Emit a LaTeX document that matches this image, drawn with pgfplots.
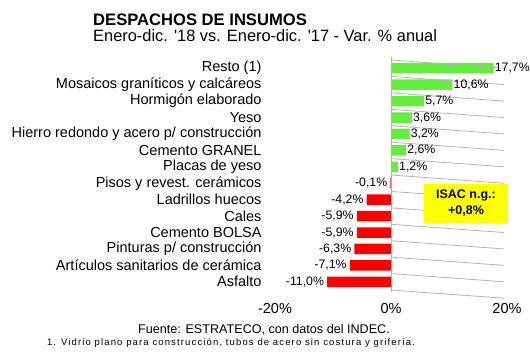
\documentclass[border=0pt]{standalone}
\usepackage{pgfplots}
\pgfplotsset{compat=1.18}
\usepackage{fontspec}
\setmainfont{Liberation Sans}
\definecolor{barGreen}{RGB}{100,238,60}
\definecolor{barRed}{RGB}{250,0,0}
\definecolor{boxYellow}{RGB}{255,255,0}
\begin{document}
\begin{tikzpicture}[x=1bp,y=1bp]
\useasboundingbox (0,0) rectangle (530,354);
% titles
\node[anchor=base west,inner sep=0,font=\fontsize{16.6bp}{18bp}\selectfont\bfseries] at (93,329) {DESPACHOS DE INSUMOS};
\node[anchor=base west,inner sep=0,font=\fontsize{16.4bp}{18bp}\selectfont] at (93,312.3) {Enero-dic. \textquotesingle18 vs. Enero-dic. \textquotesingle17 - Var. \% anual};
\begin{axis}[
  at={(275bp,64bp)}, anchor=south west,
  scale only axis, width=232bp, height=230bp,
  xmin=-20, xmax=20, ymin=-0.5, ymax=13.5,
  y dir=reverse,
  axis line style={draw=none},
  major tick length=0pt,
  xtick={-20,0,20},
  xticklabels={-20\%,0\%,20\%},
  xticklabel style={font=\fontsize{14.5bp}{16bp}\selectfont, yshift=-10bp},
  ytick={0,...,13},
  yticklabels={Resto (1),Mosaicos graníticos y calcáreos,Hormigón elaborado,Yeso,Hierro redondo y acero p/ construcción,Cemento GRANEL,Placas de yeso,Pisos y revest. cerámicos,Ladrillos huecos,Cales,Cemento BOLSA,Pinturas p/ construcción,Artículos sanitarios de cerámica,Asfalto},
  yticklabel style={font=\fontsize{14.5bp}{16bp}\selectfont, xshift=-10bp},
  clip=false,
  xbar, bar width=10.5bp, bar shift=0pt,
  nodes near coords, point meta=explicit symbolic,
]
\addplot[fill=barGreen, draw=none,
  nodes near coords style={anchor=west, inner sep=1bp, font=\fontsize{12.3bp}{14bp}\selectfont}]
  coordinates {
  (17.7,0) [17,7\%]
  (10.6,1) [10,6\%]
  (5.7,2) [5,7\%]
  (3.6,3) [3,6\%]
  (3.2,4) [3,2\%]
  (2.6,5) [2,6\%]
  (1.2,6) [1,2\%]
  };
\addplot[fill=barRed, draw=none,
  nodes near coords style={anchor=east, inner sep=3bp, font=\fontsize{12.3bp}{14bp}\selectfont}]
  coordinates {
  (-0.1,7) [-0,1\%]
  (-4.2,8) [-4,2\%]
  (-5.9,9) [-5,9\%]
  (-5.9,10) [-5,9\%]
  (-6.3,11) [-6,3\%]
  (-7.1,12) [-7,1\%]
  (-11.0,13) [-11,0\%]
  };
\draw[gray!60, line width=0.8bp] (axis cs:0,-0.7) -- (axis cs:0,13.6);
\pgfplotsinvokeforeach{-0.5,0.5,1.5,2.5,3.5,4.5,5.5,6.5,7.5,8.5,9.5,10.5,11.5,12.5,13.5}{
  \draw[gray!60, line width=0.8bp] (axis cs:0,#1) -- ++(-3bp,0);
}
\end{axis}
% ISAC box
\node[fill=boxYellow, minimum width=84bp, minimum height=39bp, inner sep=0, align=center,
  font=\fontsize{12.5bp}{16bp}\selectfont\bfseries] at (466,151) {ISAC n.g.:\\+0,8\%};
% footer
\node[anchor=base,inner sep=0,font=\fontsize{12.6bp}{14bp}\selectfont] at (264,21) {Fuente: ESTRATECO, con datos del INDEC.};
\node[anchor=base,inner sep=0,font=\fontsize{9.5bp}{10bp}\selectfont\addfontfeatures{LetterSpace=12}] at (231,9) {1. Vidrio plano para construcción, tubos de acero sin costura y grifería.};
\end{tikzpicture}
\end{document}
